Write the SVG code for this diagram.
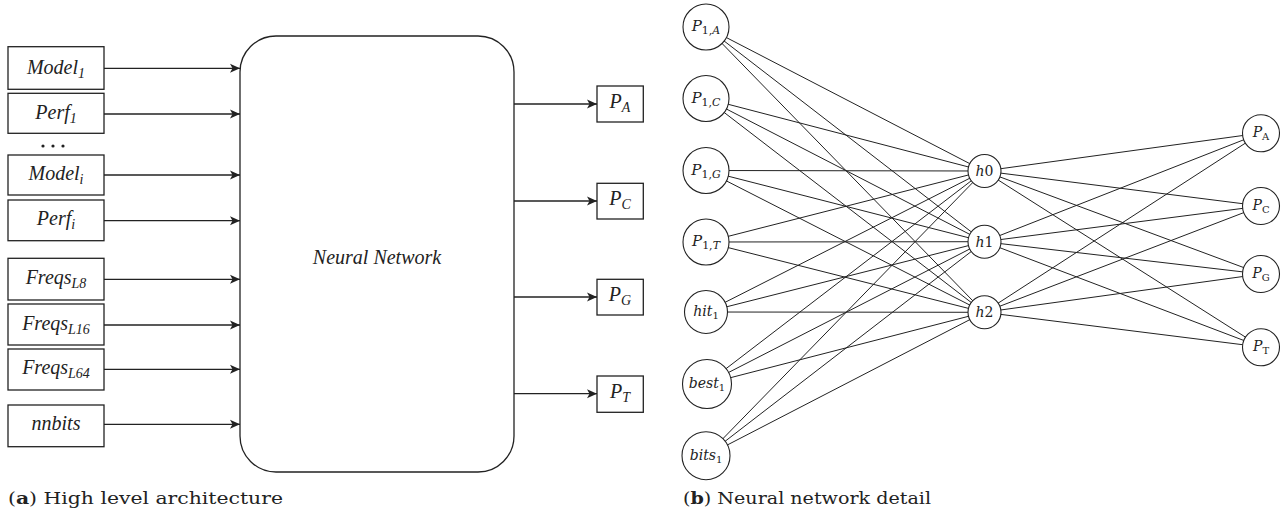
<svg xmlns="http://www.w3.org/2000/svg" width="1287" height="523" viewBox="0 0 1287 523">
<style>
.box{fill:#fff;stroke:#222;stroke-width:1.3}
.ln{stroke:#222;stroke-width:1.3;fill:none}
.nl{stroke:#222;stroke-width:1;fill:none}
.nd{fill:#fff;stroke:#222;stroke-width:1.1}
.lt{font-family:"Liberation Serif",serif;font-style:italic;font-size:20px;fill:#222;text-anchor:middle}
.sb{font-size:14px}
.nt{font-family:"DejaVu Serif",serif;font-size:14px;fill:#222;text-anchor:middle}
.it{font-style:italic}
.cap{font-family:"DejaVu Serif",serif;font-size:17.5px;fill:#222}
</style>
<defs>
<marker id="ah" viewBox="0 0 10 10" refX="10" refY="5" markerWidth="10" markerHeight="10" markerUnits="userSpaceOnUse" orient="auto">
<path d="M0,0.5 L10,5 L0,9.5 L2.5,5 Z" fill="#222"/>
</marker>
</defs>
<g id="connectors-a">
<line class="ln" x1="104" y1="68.3" x2="240" y2="68.3" marker-end="url(#ah)"/>
<line class="ln" x1="104" y1="114" x2="240" y2="114" marker-end="url(#ah)"/>
<line class="ln" x1="104" y1="175" x2="240" y2="175" marker-end="url(#ah)"/>
<line class="ln" x1="104" y1="220.7" x2="240" y2="220.7" marker-end="url(#ah)"/>
<line class="ln" x1="104" y1="279.3" x2="240" y2="279.3" marker-end="url(#ah)"/>
<line class="ln" x1="104" y1="325" x2="240" y2="325" marker-end="url(#ah)"/>
<line class="ln" x1="104" y1="369.3" x2="240" y2="369.3" marker-end="url(#ah)"/>
<line class="ln" x1="104" y1="424.3" x2="240" y2="424.3" marker-end="url(#ah)"/>
<line class="ln" x1="514" y1="104" x2="597" y2="104" marker-end="url(#ah)"/>
<line class="ln" x1="514" y1="201" x2="597" y2="201" marker-end="url(#ah)"/>
<line class="ln" x1="514" y1="297" x2="597" y2="297" marker-end="url(#ah)"/>
<line class="ln" x1="514" y1="393.7" x2="597" y2="393.7" marker-end="url(#ah)"/>
</g>
<g id="nn"><rect class="box" x="240" y="36" width="274" height="436" rx="36" ry="36"/><text class="lt" x="377" y="264" font-size="21.5">Neural Network</text></g>
<g id="model1"><rect class="box" x="8" y="46.7" width="96" height="42.6"/><text class="lt" x="56" y="74">Model<tspan class="sb" dy="4">1</tspan></text></g>
<g id="perf1"><rect class="box" x="8" y="93.3" width="96" height="40"/><text class="lt" x="56" y="119">Perf<tspan class="sb" dy="4">1</tspan></text></g>
<g id="dots"><circle cx="43" cy="146" r="1.6" fill="#222"/><circle cx="53" cy="146" r="1.6" fill="#222"/><circle cx="63" cy="146" r="1.6" fill="#222"/></g>
<g id="modeli"><rect class="box" x="8" y="155" width="96" height="40"/><text class="lt" x="56" y="180">Model<tspan class="sb" dy="4">i</tspan></text></g>
<g id="perfi"><rect class="box" x="8" y="200" width="96" height="40.7"/><text class="lt" x="56" y="225">Perf<tspan class="sb" dy="4">i</tspan></text></g>
<g id="freqs8"><rect class="box" x="8" y="258.3" width="96" height="41.7"/><text class="lt" x="56" y="284">Freqs<tspan class="sb" dy="4">L8</tspan></text></g>
<g id="freqs16"><rect class="box" x="8" y="304" width="96" height="41"/><text class="lt" x="56" y="330">Freqs<tspan class="sb" dy="4">L16</tspan></text></g>
<g id="freqs64"><rect class="box" x="8" y="349" width="96" height="41"/><text class="lt" x="56" y="374">Freqs<tspan class="sb" dy="4">L64</tspan></text></g>
<g id="nnbits"><rect class="box" x="8" y="405" width="96" height="41.7"/><text class="lt" x="56" y="430">nnbits</text></g>
<g id="pA"><rect class="box" x="597" y="86" width="46.3" height="36"/><text class="lt" x="620" y="108" font-size="21">P<tspan class="sb" dy="4">A</tspan></text></g>
<g id="pC"><rect class="box" x="597" y="183.3" width="46.3" height="35.7"/><text class="lt" x="620" y="205" font-size="21">P<tspan class="sb" dy="4">C</tspan></text></g>
<g id="pG"><rect class="box" x="597" y="279.3" width="46.3" height="35.7"/><text class="lt" x="620" y="301" font-size="21">P<tspan class="sb" dy="4">G</tspan></text></g>
<g id="pT"><rect class="box" x="597" y="376" width="46.3" height="36.3"/><text class="lt" x="620" y="398" font-size="21">P<tspan class="sb" dy="4">T</tspan></text></g>
<g id="connectors-b">
<line class="nl" x1="706" y1="27" x2="984" y2="171"/><line class="nl" x1="706" y1="27" x2="984" y2="241.7"/><line class="nl" x1="706" y1="27" x2="984" y2="312.3"/>
<line class="nl" x1="706" y1="98.5" x2="984" y2="171"/><line class="nl" x1="706" y1="98.5" x2="984" y2="241.7"/><line class="nl" x1="706" y1="98.5" x2="984" y2="312.3"/>
<line class="nl" x1="706" y1="170.5" x2="984" y2="171"/><line class="nl" x1="706" y1="170.5" x2="984" y2="241.7"/><line class="nl" x1="706" y1="170.5" x2="984" y2="312.3"/>
<line class="nl" x1="706" y1="242" x2="984" y2="171"/><line class="nl" x1="706" y1="242" x2="984" y2="241.7"/><line class="nl" x1="706" y1="242" x2="984" y2="312.3"/>
<line class="nl" x1="706" y1="312" x2="984" y2="171"/><line class="nl" x1="706" y1="312" x2="984" y2="241.7"/><line class="nl" x1="706" y1="312" x2="984" y2="312.3"/>
<line class="nl" x1="706" y1="384" x2="984" y2="171"/><line class="nl" x1="706" y1="384" x2="984" y2="241.7"/><line class="nl" x1="706" y1="384" x2="984" y2="312.3"/>
<line class="nl" x1="706" y1="456" x2="984" y2="171"/><line class="nl" x1="706" y1="456" x2="984" y2="241.7"/><line class="nl" x1="706" y1="456" x2="984" y2="312.3"/>
<line class="nl" x1="984" y1="171" x2="1261" y2="133"/><line class="nl" x1="984" y1="171" x2="1261" y2="206"/><line class="nl" x1="984" y1="171" x2="1261" y2="274"/><line class="nl" x1="984" y1="171" x2="1261" y2="347"/>
<line class="nl" x1="984" y1="241.7" x2="1261" y2="133"/><line class="nl" x1="984" y1="241.7" x2="1261" y2="206"/><line class="nl" x1="984" y1="241.7" x2="1261" y2="274"/><line class="nl" x1="984" y1="241.7" x2="1261" y2="347"/>
<line class="nl" x1="984" y1="312.3" x2="1261" y2="133"/><line class="nl" x1="984" y1="312.3" x2="1261" y2="206"/><line class="nl" x1="984" y1="312.3" x2="1261" y2="274"/><line class="nl" x1="984" y1="312.3" x2="1261" y2="347"/>
</g>
<g id="n-p1a"><circle class="nd" cx="706" cy="27" r="23"/><text class="nt" x="706" y="31"><tspan class="it" font-size="15">P</tspan><tspan font-size="11" dy="3">1,<tspan class="it">A</tspan></tspan></text></g>
<g id="n-p1c"><circle class="nd" cx="706" cy="98.5" r="23"/><text class="nt" x="706" y="102.5"><tspan class="it" font-size="15">P</tspan><tspan font-size="11" dy="3">1,<tspan class="it">C</tspan></tspan></text></g>
<g id="n-p1g"><circle class="nd" cx="706" cy="170.5" r="23"/><text class="nt" x="706" y="174.5"><tspan class="it" font-size="15">P</tspan><tspan font-size="11" dy="3">1,<tspan class="it">G</tspan></tspan></text></g>
<g id="n-p1t"><circle class="nd" cx="706" cy="242" r="23"/><text class="nt" x="706" y="246"><tspan class="it" font-size="15">P</tspan><tspan font-size="11" dy="3">1,<tspan class="it">T</tspan></tspan></text></g>
<g id="n-hit"><circle class="nd" cx="706" cy="312" r="21.5"/><text class="nt" x="706" y="316"><tspan class="it">hit</tspan><tspan font-size="10" dy="3">1</tspan></text></g>
<g id="n-best"><circle class="nd" cx="707" cy="384" r="24.5"/><text class="nt" x="707" y="388"><tspan class="it">best</tspan><tspan font-size="10" dy="3">1</tspan></text></g>
<g id="n-bits"><circle class="nd" cx="706" cy="455.7" r="24"/><text class="nt" x="706" y="460"><tspan class="it">bits</tspan><tspan font-size="10" dy="3">1</tspan></text></g>
<g id="n-h0"><circle class="nd" cx="984.5" cy="171" r="16.5"/><text class="nt" x="984.5" y="176"><tspan class="it">h</tspan>0</text></g>
<g id="n-h1"><circle class="nd" cx="984.5" cy="241.7" r="16.5"/><text class="nt" x="984.5" y="246.7"><tspan class="it">h</tspan>1</text></g>
<g id="n-h2"><circle class="nd" cx="984.5" cy="312.3" r="16.5"/><text class="nt" x="984.5" y="317.3"><tspan class="it">h</tspan>2</text></g>
<g id="n-pa"><circle class="nd" cx="1261" cy="133.3" r="18.5"/><text class="nt" x="1261" y="137"><tspan class="it" font-size="14">P</tspan><tspan font-size="10" dy="3">A</tspan></text></g>
<g id="n-pc"><circle class="nd" cx="1261" cy="206" r="18.5"/><text class="nt" x="1261" y="210"><tspan class="it" font-size="14">P</tspan><tspan font-size="10" dy="3">C</tspan></text></g>
<g id="n-pg"><circle class="nd" cx="1261" cy="274" r="18.5"/><text class="nt" x="1261" y="278"><tspan class="it" font-size="14">P</tspan><tspan font-size="10" dy="3">G</tspan></text></g>
<g id="n-pt"><circle class="nd" cx="1261" cy="347.3" r="18.5"/><text class="nt" x="1261" y="351"><tspan class="it" font-size="14">P</tspan><tspan font-size="10" dy="3">T</tspan></text></g>
<text class="cap" x="8" y="504" textLength="275" lengthAdjust="spacingAndGlyphs">(<tspan font-weight="bold">a</tspan>) High level architecture</text>
<text class="cap" x="683" y="504" textLength="248" lengthAdjust="spacingAndGlyphs">(<tspan font-weight="bold">b</tspan>) Neural network detail</text>
</svg>
